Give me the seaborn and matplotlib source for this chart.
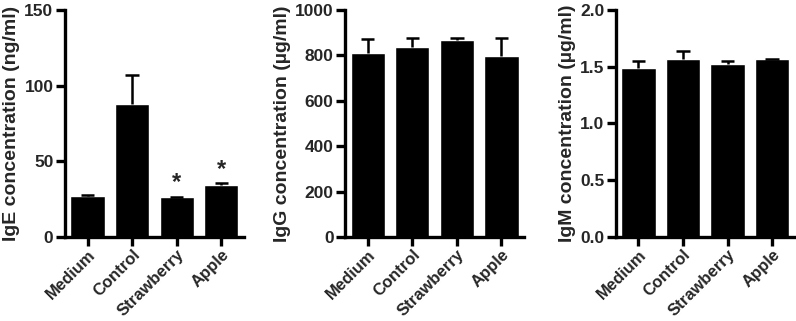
import matplotlib
matplotlib.use("Agg")
import matplotlib.pyplot as plt
import seaborn as sns
import pandas as pd

# groups and values (mean, upper error = SEM)
groups = ["Medium", "Control", "Strawberry", "Apple"]

ige_mean = [27.1, 88.0, 26.3, 34.1]
ige_err = [0.5, 19.2, 0.4, 1.3]
ige_stars = ["", "", "*", "*"]

igg_mean = [811, 837, 866, 797]
igg_err = [62, 41, 12, 81]

igm_mean = [1.49, 1.565, 1.52, 1.565]
igm_err = [0.056, 0.071, 0.033, 0.006]

ylabels = ["IgE concentration (ng/ml)",
           "IgG concentration (µg/ml)",
           "IgM concentration (µg/ml)"]
yticks = [[0, 50, 100, 150],
          [0, 200, 400, 600, 800, 1000],
          [0.0, 0.5, 1.0, 1.5, 2.0]]
yticklabels = [["0", "50", "100", "150"],
               ["0", "200", "400", "600", "800", "1000"],
               ["0.0", "0.5", "1.0", "1.5", "2.0"]]

sns.set_style("ticks")
plt.rcParams["font.family"] = ["Liberation Sans", "DejaVu Sans"]
plt.rcParams["font.weight"] = "bold"

fig = plt.figure(figsize=(7.96, 3.21), dpi=100)
lefts = [0.082, 0.434, 0.774]
axes = [fig.add_axes([l, 0.262, 0.224, 0.707]) for l in lefts]

panels = [(ige_mean, ige_err), (igg_mean, igg_err), (igm_mean, igm_err)]
for k, (ax, (m, e)) in enumerate(zip(axes, panels)):
    df = pd.DataFrame({"group": groups, "value": m})
    sns.barplot(data=df, x="group", y="value", color="black", width=0.77,
                errorbar=None, ax=ax, saturation=1)
    # upper-only error bars, GraphPad style
    xs = range(len(groups))
    tops = [a + b for a, b in zip(m, e)]
    ax.vlines(xs, m, tops, color="black", linewidth=1.8)
    ax.hlines(tops, [x - 0.15 for x in xs], [x + 0.15 for x in xs],
              color="black", linewidth=1.8)
    ax.set_ylim(yticks[k][0], yticks[k][-1])
    ax.set_xlim(-0.5, 3.5)
    ax.set_yticks(yticks[k])
    ax.set_yticklabels(yticklabels[k], fontsize=12.5, fontweight="bold")
    ax.set_xticks(range(len(groups)))
    ax.set_xticklabels(groups, rotation=45, ha="right", rotation_mode="anchor",
                       fontsize=12, fontweight="bold")
    ax.set_xlabel("")
    ax.set_ylabel(ylabels[k], fontsize=14, fontweight="bold", labelpad=3)
    sns.despine(ax=ax)
    for side in ["left", "bottom"]:
        ax.spines[side].set_linewidth(2.4)
        ax.spines[side].set_color("black")
    ax.tick_params(axis="both", width=2.4, length=6.5, color="black", pad=2)
    ax.tick_params(axis="x", pad=1)

# significance stars over strawberry and apple
for i, s in enumerate(ige_stars):
    if s:
        axes[0].text(i, ige_mean[i] + ige_err[i] + 9, s, ha="center", va="center",
                     fontsize=17, fontweight="bold")

fig.savefig("out.png", dpi=100)
